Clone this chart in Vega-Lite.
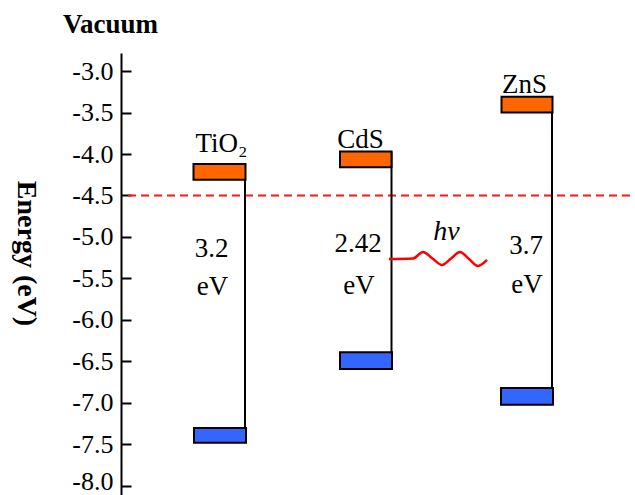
{
  "$schema": "https://vega.github.io/schema/vega-lite/v6.json",
  "width": 514,
  "height": 447,
  "autosize": "none",
  "padding": {"left": 121, "top": 53, "right": 0, "bottom": 0},
  "background": "white",
  "config": {"view": {"stroke": null}, "axis": {"grid": false}},
  "title": {"text": "Vacuum", "anchor": "start", "frame": "group", "dx": -58, "offset": 14, "font": "Liberation Serif", "fontSize": 27, "fontWeight": "bold", "color": "black"},
  "encoding": {
    "x": {"field": "x", "type": "quantitative", "scale": {"domain": [0, 10.28], "nice": false, "zero": false}, "axis": null},
    "y": {"field": "y", "type": "quantitative", "scale": {"domain": [-8.169, -2.783], "nice": false, "zero": false},
      "axis": {"values": [-3, -3.5, -4, -4.5, -5, -5.5, -6, -6.5, -7, -7.5, -8],
        "labelExpr": "(datum.value < 0 ? '-' : '') + format(abs(datum.value), '.1f')",
        "title": "Energy (eV)", "titleFont": "Liberation Serif", "titleFontSize": 28, "titleFontWeight": "bold", "titleColor": "black",
        "titleAngle": 90, "titleX": -96, "titleY": 200, "titleAlign": "center", "titleBaseline": "middle",
        "labelFont": "Liberation Serif", "labelFontSize": 26, "labelColor": "black", "labelPadding": 18, "labelFlush": false, "labelOverlap": false,
        "labelOffset": {"condition": {"test": "datum.value <= -7.9", "value": -4}, "value": 0},
        "tickSize": -10, "tickColor": "black", "tickWidth": 2, "domainColor": "black", "domainWidth": 2}}
  },
  "layer": [
    {
      "data": {"values": [
        {"x": 0.14, "x2": 10.28, "y": -4.5}
      ]},
      "mark": {"type": "rule", "color": "#EE1C1C", "strokeWidth": 2, "strokeDash": [8, 5]},
      "encoding": {"x2": {"field": "x2"}}
    },
    {
      "data": {"values": [
        {"material": "TiO2", "x": 2.48, "y": -4.12, "y2": -7.48},
        {"material": "CdS", "x": 5.41, "y": -3.97, "y2": -6.59},
        {"material": "ZnS", "x": 8.62, "y": -3.31, "y2": -7.02}
      ]},
      "mark": {"type": "rule", "color": "black", "strokeWidth": 2},
      "encoding": {"y2": {"field": "y2"}}
    },
    {
      "data": {"values": [
        {"material": "TiO2", "band": "CB", "x": 1.45, "x2": 2.49, "y": -4.12, "y2": -4.31},
        {"material": "TiO2", "band": "VB", "x": 1.46, "x2": 2.5, "y": -7.3, "y2": -7.48},
        {"material": "CdS", "band": "CB", "x": 4.38, "x2": 5.41, "y": -3.97, "y2": -4.16},
        {"material": "CdS", "band": "VB", "x": 4.38, "x2": 5.42, "y": -6.39, "y2": -6.59},
        {"material": "ZnS", "band": "CB", "x": 7.61, "x2": 8.63, "y": -3.31, "y2": -3.5},
        {"material": "ZnS", "band": "VB", "x": 7.6, "x2": 8.64, "y": -6.82, "y2": -7.02}
      ]},
      "mark": {"type": "rect", "stroke": "black", "strokeWidth": 2},
      "encoding": {
        "x2": {"field": "x2"},
        "y2": {"field": "y2"},
        "fill": {"field": "band", "type": "nominal", "scale": {"domain": ["CB", "VB"], "range": ["#FF6600", "#3366FF"]}, "legend": null}
      }
    },
    {
      "data": {"values": [
        {"x": 5.36, "y": -5.265},
        {"x": 5.84, "y": -5.259},
        {"x": 6.04, "y": -5.181},
        {"x": 6.23, "y": -5.259},
        {"x": 6.42, "y": -5.337},
        {"x": 6.6, "y": -5.259},
        {"x": 6.78, "y": -5.181},
        {"x": 6.96, "y": -5.265},
        {"x": 7.14, "y": -5.349},
        {"x": 7.32, "y": -5.277}
      ]},
      "mark": {"type": "line", "color": "#FF0000", "strokeWidth": 2.5, "interpolate": "monotone"},
      "encoding": {}
    },
    {
      "data": {"values": [
        {"label": "TiO₂", "x": 2.01, "y": -3.98},
        {"label": "CdS", "x": 4.79, "y": -3.93},
        {"label": "ZnS", "x": 8.07, "y": -3.27},
        {"label": "3.2", "x": 1.81, "y": -5.24},
        {"label": "eV", "x": 1.83, "y": -5.7},
        {"label": "2.42", "x": 4.74, "y": -5.18},
        {"label": "eV", "x": 4.76, "y": -5.69},
        {"label": "3.7", "x": 8.1, "y": -5.21},
        {"label": "eV", "x": 8.12, "y": -5.68}
      ]},
      "mark": {"type": "text", "font": "Liberation Serif", "fontSize": 27, "color": "black", "align": "center", "baseline": "alphabetic"},
      "encoding": {"text": {"field": "label"}}
    },
    {
      "data": {"values": [
        {"label": "hν", "x": 6.51, "y": -5.04}
      ]},
      "mark": {"type": "text", "font": "Liberation Serif", "fontSize": 28, "fontStyle": "italic", "color": "black", "align": "center", "baseline": "alphabetic"},
      "encoding": {"text": {"field": "label"}}
    }
  ]
}
